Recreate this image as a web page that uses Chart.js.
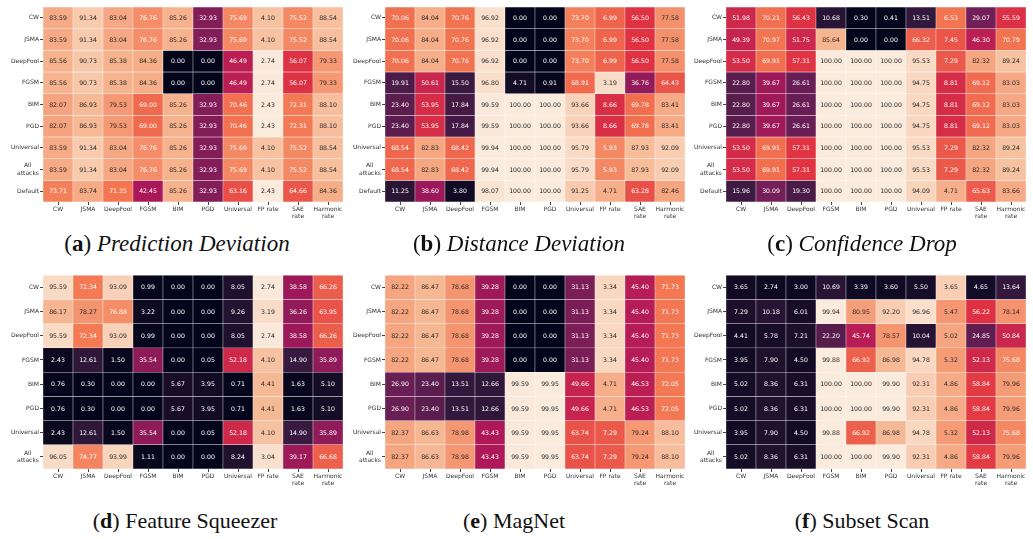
<!DOCTYPE html>
<html>
<head>
<meta charset="utf-8">
<script src="https://cdn.jsdelivr.net/npm/chart.js@4.4.1/dist/chart.umd.min.js"></script>
<style>
  body { margin: 0; background: #fff; width: 1033px; height: 539px; position: relative; overflow: hidden; }
  canvas { position: absolute; }
  .cap { position: absolute; font-family: "Liberation Serif", serif; font-size: 23px; line-height: 24px; color: #111; white-space: nowrap; transform: translateX(-50%); }
  .cap.low { font-size: 22px; }
  .cap i { font-style: italic; }
</style>
</head>
<body>
<canvas id="hmA" width="345" height="225" style="left:0px;top:0px"></canvas>
<canvas id="hmB" width="345" height="225" style="left:342px;top:0px"></canvas>
<canvas id="hmC" width="345" height="225" style="left:683px;top:0px"></canvas>
<canvas id="hmD" width="345" height="225" style="left:0px;top:267px"></canvas>
<canvas id="hmE" width="345" height="225" style="left:342px;top:267px"></canvas>
<canvas id="hmF" width="345" height="225" style="left:683px;top:267px"></canvas>

<div class="cap" style="left:177px;top:232px">(<b>a</b>) <i>Prediction Deviation</i></div>
<div class="cap" style="left:519px;top:232px">(<b>b</b>) <i>Distance Deviation</i></div>
<div class="cap" style="left:862px;top:232px">(<b>c</b>) <i>Confidence Drop</i></div>
<div class="cap low" style="left:185px;top:509px">(<b>d</b>) Feature Squeezer</div>
<div class="cap low" style="left:514px;top:509px">(<b>e</b>) MagNet</div>
<div class="cap low" style="left:862px;top:509px">(<b>f</b>) Subset Scan</div>

<script>
// colonnes et lignes
const columns = ['CW', 'JSMA', 'DeepFool', 'FGSM', 'BIM', 'PGD', 'Universal', 'FP rate', 'SAE rate', 'Harmonic rate'];
const rowsTop = ['CW', 'JSMA', 'DeepFool', 'FGSM', 'BIM', 'PGD', 'Universal', 'All attacks', 'Default'];
const rowsBottom = ['CW', 'JSMA', 'DeepFool', 'FGSM', 'BIM', 'PGD', 'Universal', 'All attacks'];

// (a) Prediction Deviation
const predictionDeviation = [
  [83.59, 91.34, 83.04, 76.76, 85.26, 32.93, 75.69, 4.10, 75.52, 88.54],
  [83.59, 91.34, 83.04, 76.76, 85.26, 32.93, 75.69, 4.10, 75.52, 88.54],
  [85.56, 90.73, 85.38, 84.36, 0.00, 0.00, 46.49, 2.74, 56.07, 79.33],
  [85.56, 90.73, 85.38, 84.36, 0.00, 0.00, 46.49, 2.74, 56.07, 79.33],
  [82.07, 86.93, 79.53, 69.00, 85.26, 32.93, 70.46, 2.43, 72.31, 88.10],
  [82.07, 86.93, 79.53, 69.00, 85.26, 32.93, 70.46, 2.43, 72.31, 88.10],
  [83.59, 91.34, 83.04, 76.76, 85.26, 32.93, 75.69, 4.10, 75.52, 88.54],
  [83.59, 91.34, 83.04, 76.76, 85.26, 32.93, 75.69, 4.10, 75.52, 88.54],
  [73.71, 83.74, 71.35, 42.45, 85.26, 32.93, 63.16, 2.43, 64.66, 84.36]
];

// (b) Distance Deviation
const distanceDeviation = [
  [70.06, 84.04, 70.76, 96.92, 0.00, 0.00, 73.70, 6.99, 56.50, 77.58],
  [70.06, 84.04, 70.76, 96.92, 0.00, 0.00, 73.70, 6.99, 56.50, 77.58],
  [70.06, 84.04, 70.76, 96.92, 0.00, 0.00, 73.70, 6.99, 56.50, 77.58],
  [19.91, 50.61, 15.50, 96.80, 4.71, 0.91, 68.91, 3.19, 36.76, 64.43],
  [23.40, 53.95, 17.84, 99.59, 100.00, 100.00, 93.66, 8.66, 69.78, 83.41],
  [23.40, 53.95, 17.84, 99.59, 100.00, 100.00, 93.66, 8.66, 69.78, 83.41],
  [68.54, 82.83, 68.42, 99.94, 100.00, 100.00, 95.79, 5.93, 87.93, 92.09],
  [68.54, 82.83, 68.42, 99.94, 100.00, 100.00, 95.79, 5.93, 87.93, 92.09],
  [11.25, 38.60, 3.80, 98.07, 100.00, 100.00, 91.25, 4.71, 63.28, 82.46]
];

// (c) Confidence Drop
const confidenceDrop = [
  [51.98, 70.21, 56.43, 10.68, 0.30, 0.41, 13.51, 6.53, 29.07, 55.59],
  [49.39, 70.97, 51.75, 85.64, 0.00, 0.00, 66.32, 7.45, 46.30, 70.79],
  [53.50, 69.91, 57.31, 100.00, 100.00, 100.00, 95.53, 7.29, 82.32, 89.24],
  [22.80, 39.67, 26.61, 100.00, 100.00, 100.00, 94.75, 8.81, 69.12, 83.03],
  [22.80, 39.67, 26.61, 100.00, 100.00, 100.00, 94.75, 8.81, 69.12, 83.03],
  [22.80, 39.67, 26.61, 100.00, 100.00, 100.00, 94.75, 8.81, 69.12, 83.03],
  [53.50, 69.91, 57.31, 100.00, 100.00, 100.00, 95.53, 7.29, 82.32, 89.24],
  [53.50, 69.91, 57.31, 100.00, 100.00, 100.00, 95.53, 7.29, 82.32, 89.24],
  [15.96, 30.09, 19.30, 100.00, 100.00, 100.00, 94.09, 4.71, 65.63, 83.66]
];

// (d) Feature Squeezer
const featureSqueezer = [
  [95.59, 72.34, 93.09, 0.99, 0.00, 0.00, 8.05, 2.74, 38.58, 66.26],
  [86.17, 78.27, 76.88, 3.22, 0.00, 0.00, 9.26, 3.19, 36.26, 63.95],
  [95.59, 72.34, 93.09, 0.99, 0.00, 0.00, 8.05, 2.74, 38.58, 66.26],
  [2.43, 12.61, 1.50, 35.54, 0.00, 0.05, 52.18, 4.10, 14.90, 35.89],
  [0.76, 0.30, 0.00, 0.00, 5.67, 3.95, 0.71, 4.41, 1.63, 5.10],
  [0.76, 0.30, 0.00, 0.00, 5.67, 3.95, 0.71, 4.41, 1.63, 5.10],
  [2.43, 12.61, 1.50, 35.54, 0.00, 0.05, 52.18, 4.10, 14.90, 35.89],
  [96.05, 74.77, 93.99, 1.11, 0.00, 0.00, 8.24, 3.04, 39.17, 66.68]
];

// (e) MagNet
const magNet = [
  [82.22, 86.47, 78.68, 39.28, 0.00, 0.00, 31.13, 3.34, 45.40, 71.73],
  [82.22, 86.47, 78.68, 39.28, 0.00, 0.00, 31.13, 3.34, 45.40, 71.73],
  [82.22, 86.47, 78.68, 39.28, 0.00, 0.00, 31.13, 3.34, 45.40, 71.73],
  [82.22, 86.47, 78.68, 39.28, 0.00, 0.00, 31.13, 3.34, 45.40, 71.73],
  [26.90, 23.40, 13.51, 12.66, 99.59, 99.95, 49.66, 4.71, 46.53, 72.05],
  [26.90, 23.40, 13.51, 12.66, 99.59, 99.95, 49.66, 4.71, 46.53, 72.05],
  [82.37, 86.63, 78.98, 43.43, 99.59, 99.95, 63.74, 7.29, 79.24, 88.10],
  [82.37, 86.63, 78.98, 43.43, 99.59, 99.95, 63.74, 7.29, 79.24, 88.10]
];

// (f) Subset Scan
const subsetScan = [
  [3.65, 2.74, 3.00, 10.69, 3.39, 3.60, 5.50, 3.65, 4.65, 13.64],
  [7.29, 10.18, 6.01, 99.94, 80.95, 92.20, 96.96, 5.47, 56.22, 78.14],
  [4.41, 5.78, 7.21, 22.20, 45.74, 78.57, 10.04, 5.02, 24.85, 50.84],
  [3.95, 7.90, 4.50, 99.88, 66.92, 86.98, 94.78, 5.32, 52.13, 75.68],
  [5.02, 8.36, 6.31, 100.00, 100.00, 99.90, 92.31, 4.86, 58.84, 79.96],
  [5.02, 8.36, 6.31, 100.00, 100.00, 99.90, 92.31, 4.86, 58.84, 79.96],
  [3.95, 7.90, 4.50, 99.88, 66.92, 86.98, 94.78, 5.32, 52.13, 75.68],
  [5.02, 8.36, 6.31, 100.00, 100.00, 99.90, 92.31, 4.86, 58.84, 79.96]
];

// palette "rocket" (approx.)
const rocket = [
  [0, 3, 5, 26], [1/7, 53, 25, 62], [2/7, 112, 31, 87], [3/7, 173, 23, 89],
  [4/7, 225, 51, 66], [5/7, 243, 118, 81], [6/7, 246, 180, 143], [1, 250, 235, 221]
];
const FP_COL = 7;

// position dans la palette (0..1) ; le taux FP est inversé (plus bas = mieux)
function cellPos(v, c) {
  const p = c === FP_COL ? (120 - 7.5 * v) : v;
  return Math.max(0, Math.min(100, p)) / 100;
}
function rocketColor(t) {
  for (let i = 1; i < rocket.length; i++) {
    if (t <= rocket[i][0]) {
      const a = rocket[i - 1], b = rocket[i];
      const k = (t - a[0]) / (b[0] - a[0]);
      const ch = j => Math.round(a[j] + (b[j] - a[j]) * k);
      return `rgb(${ch(1)},${ch(2)},${ch(3)})`;
    }
  }
  return 'rgb(250,235,221)';
}
const textColor = (v, c) => cellPos(v, c) > 0.772 ? '#262626' : '#ffffff';
const splitLabel = s => s.includes(' ') && s !== 'FP rate' ? s.split(' ') : s;

// texte des cellules
const annotPlugin = {
  id: 'annot',
  afterDatasetsDraw(chart) {
    const ctx = chart.ctx;
    ctx.save();
    ctx.font = '6.2px "DejaVu Sans"';
    ctx.textAlign = 'center';
    ctx.textBaseline = 'middle';
    chart.data.datasets.forEach((ds, r) => {
      chart.getDatasetMeta(r).data.forEach((bar, c) => {
        const v = ds.values[c];
        const p = bar.getProps(['x', 'y', 'base'], true);
        ctx.fillStyle = textColor(v, c);
        ctx.fillText(v.toFixed(2), p.x, (p.y + p.base) / 2 + 0.5);
      });
    });
    ctx.restore();
  }
};

function heatmap(id, rows, values) {
  const datasets = rows.map((row, r) => ({
    label: row,
    data: columns.map(() => 1),
    values: values[r],
    backgroundColor: values[r].map((v, c) => rocketColor(cellPos(v, c))),
    borderColor: 'rgba(255,255,255,0.75)',
    borderWidth: 0.5,
    borderSkipped: false,
    barPercentage: 1,
    categoryPercentage: 1
  }));
  const tickFont = { family: 'DejaVu Sans', size: 6 };
  new Chart(document.getElementById(id), {
    type: 'bar',
    data: { labels: columns.map(splitLabel), datasets },
    options: {
      responsive: false,
      animation: false,
      layout: { padding: { top: 7, right: 2, left: 0, bottom: 0 } },
      plugins: { legend: { display: false }, tooltip: { enabled: false } },
      scales: {
        x: {
          stacked: true,
          grid: { offset: false, drawOnChartArea: false, tickLength: 3, color: '#444' },
          border: { display: false },
          ticks: { font: tickFont, color: '#333', maxRotation: 0, autoSkip: false, padding: 1 },
          afterFit: a => { a.height = 23; }
        },
        y: {
          stacked: true,
          reverse: true,
          min: 0,
          max: rows.length,
          afterBuildTicks: a => { a.ticks = rows.map((_, i) => ({ value: i + 0.5 })); },
          grid: { drawOnChartArea: false, tickLength: 3, color: '#444' },
          border: { display: false },
          ticks: {
            font: tickFont, color: '#333', padding: 1,
            callback: (v, i) => rows[i] === 'All attacks' ? ['All\u00A0\u00A0\u00A0\u00A0', 'attacks'] : rows[i]
          },
          afterFit: a => { a.width = 43; }
        }
      }
    },
    plugins: [annotPlugin]
  });
}

heatmap('hmA', rowsTop, predictionDeviation);
heatmap('hmB', rowsTop, distanceDeviation);
heatmap('hmC', rowsTop, confidenceDrop);
heatmap('hmD', rowsBottom, featureSqueezer);
heatmap('hmE', rowsBottom, magNet);
heatmap('hmF', rowsBottom, subsetScan);
</script>
</body>
</html>
